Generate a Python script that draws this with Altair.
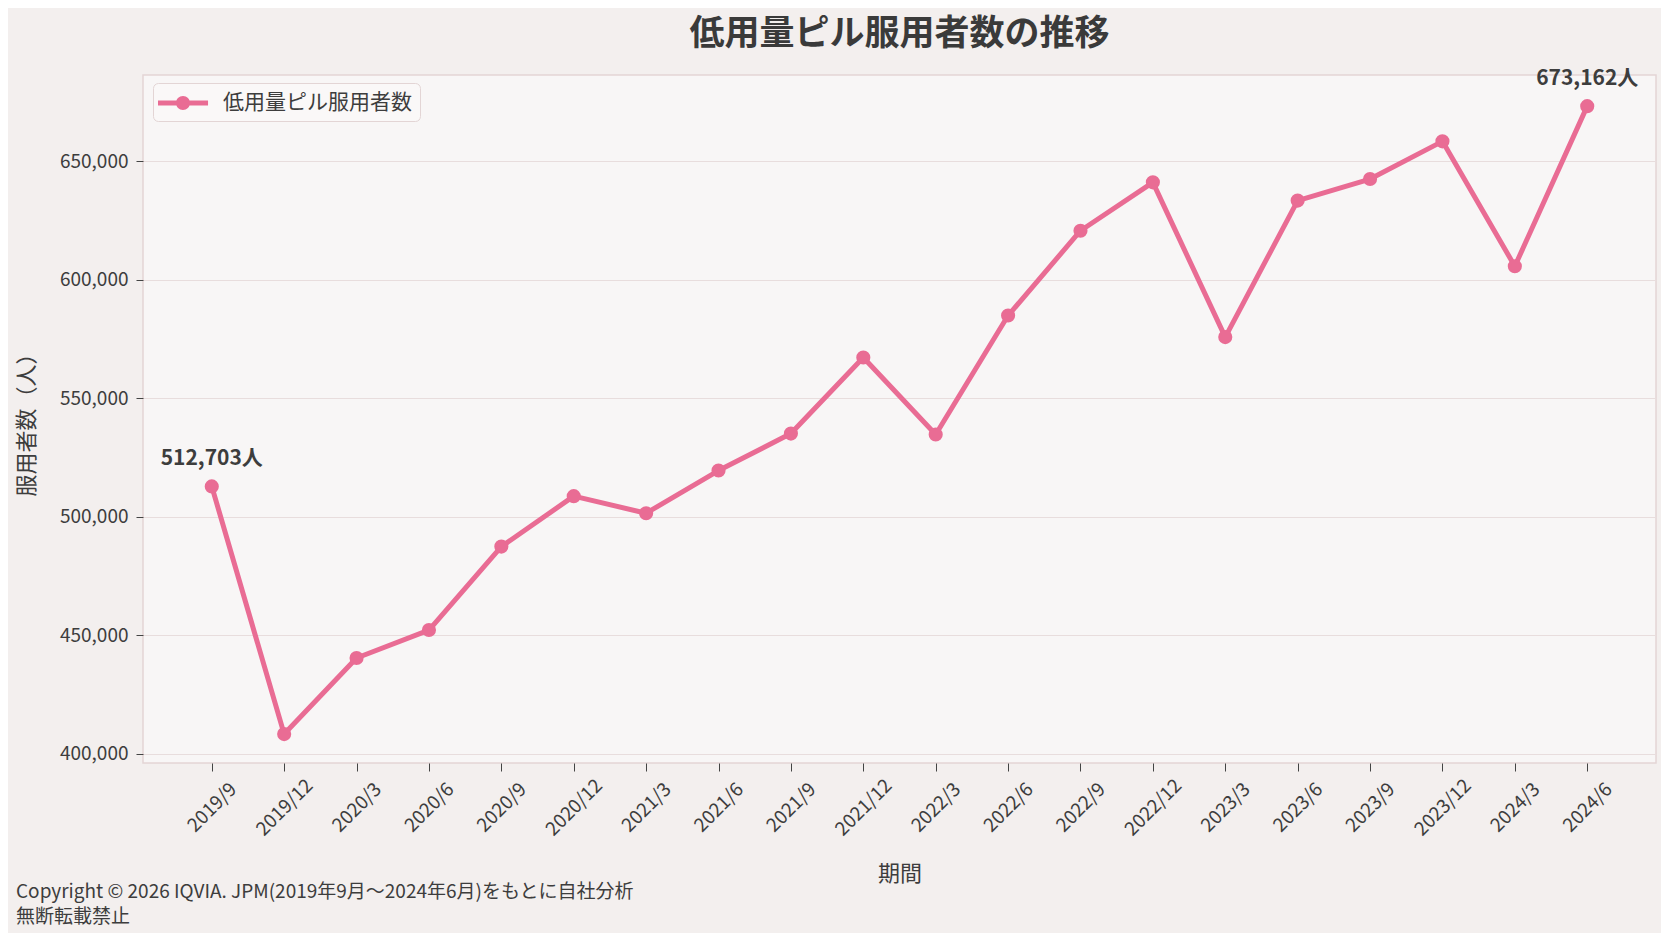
import altair as alt
import pandas as pd

# ---- data ----
periods = ["2019/9", "2019/12", "2020/3", "2020/6", "2020/9", "2020/12",
           "2021/3", "2021/6", "2021/9", "2021/12", "2022/3", "2022/6",
           "2022/9", "2022/12", "2023/3", "2023/6", "2023/9", "2023/12",
           "2024/3", "2024/6"]
users = [512703, 408200, 440300, 452100, 487300, 508600,
         501400, 519400, 535000, 567100, 534600, 584800,
         620600, 641000, 575700, 633300, 642400, 658300,
         605600, 673162]
series_name = "低用量ピル服用者数"
y_ticks = [400000, 450000, 500000, 550000, 600000, 650000]
footer_lines = ["Copyright © 2026 IQVIA. JPM(2019年9月～2024年6月)をもとに自社分析",
                "無断転載禁止"]

df = pd.DataFrame({"期間": periods, "服用者数": users, "系列": series_name})

PINK = "#E96C94"
TEXT = "#3d3d3d"
FONT = "Noto Sans CJK JP"

# legend glyph: a short thick line with a dot (line + marker), unit = sqrt(size)/2
legend_path = ("M-1.25,-0.21L2.92,-0.21L2.92,0.21L-1.25,0.21Z "
               "M0.25,0A0.5833,0.5833 0 1,1 1.4167,0A0.5833,0.5833 0 1,1 0.25,0Z")

x_enc = alt.X("期間:N", sort=periods,
              scale=alt.Scale(type="point", padding=0.95),
              axis=alt.Axis(title="期間", labelAngle=-45, labelAlign="center",
                            labelBaseline="middle", labelPadding=36, tickSize=8,
                            labelFontSize=19, titleFontSize=22, titleFontWeight="normal",
                            titleY=110, titleBaseline="middle", domain=False,
                            grid=False, labelOverlap=False, labelColor=TEXT,
                            titleColor=TEXT, tickColor="#444444"))
y_enc = alt.Y("服用者数:Q",
              scale=alt.Scale(domain=[396000, 686300], nice=False, zero=False),
              axis=alt.Axis(title="服用者数（人）", values=y_ticks, format=",d",
                            labelFontSize=19, tickSize=7, labelPadding=8,
                            titleFontSize=22, titleFontWeight="normal",
                            titleX=-117, titleY=344, titleAngle=-90,
                            titleBaseline="middle", titleAlign="center",
                            domain=False, grid=True, gridColor="#E8DDDD",
                            gridWidth=1.2, labelColor=TEXT, titleColor=TEXT,
                            tickColor="#444444"))
color_enc = alt.Color("系列:N", scale=alt.Scale(range=[PINK]),
                      legend=alt.Legend(title=None, orient="none", legendX=10, legendY=8,
                                        symbolType=legend_path, symbolSize=576,
                                        symbolStrokeWidth=0, symbolFillColor=PINK,
                                        labelFontSize=21, labelColor=TEXT,
                                        labelOffset=38, labelLimit=0, padding=8,
                                        fillColor="#FAF8F8", strokeColor="#E3D5D5",
                                        cornerRadius=5))

base = alt.Chart(df)

line = base.mark_line(strokeWidth=5, strokeJoin="round", strokeCap="round").encode(
    x=x_enc, y=y_enc, color=color_enc)
points = base.mark_point(filled=True, size=200, opacity=1).encode(
    x=x_enc, y=y_enc, color=color_enc)

labels = base.transform_filter(
    alt.FieldOneOfPredicate(field="期間", oneOf=[periods[0], periods[-1]])
).transform_calculate(
    lbl="format(datum['服用者数'], ',') + '人'"
).mark_text(fontSize=21, fontWeight="bold", color=TEXT, dy=-27,
            baseline="middle", align="center").encode(
    x=alt.X("期間:N", sort=periods), y="服用者数:Q", text="lbl:N")

footer = alt.Chart(pd.DataFrame({"note": [0]})).mark_text(
    align="left", baseline="middle", fontSize=19, color=TEXT, lineHeight=25
).encode(x=alt.value(-127), y=alt.value(817), text=alt.value(footer_lines))

chart = alt.layer(line, points, labels, footer).properties(
    width=1513, height=688,
    padding={"left": 135, "top": 67, "right": 5, "bottom": 170},
    autosize=alt.AutoSizeParams(type="none"),
    background="#F3EFEE",
    title=alt.Title("低用量ピル服用者数の推移", fontSize=35, fontWeight="bold",
                    color="#3a3a3a", anchor="middle", frame="group",
                    baseline="middle", offset=-1),
).configure(font=FONT).configure_view(
    fill="#F8F6F6", stroke="#E3D5D5", strokeWidth=1.5
)

chart.save("out.html", embed_options={"renderer": "svg", "actions": False})
